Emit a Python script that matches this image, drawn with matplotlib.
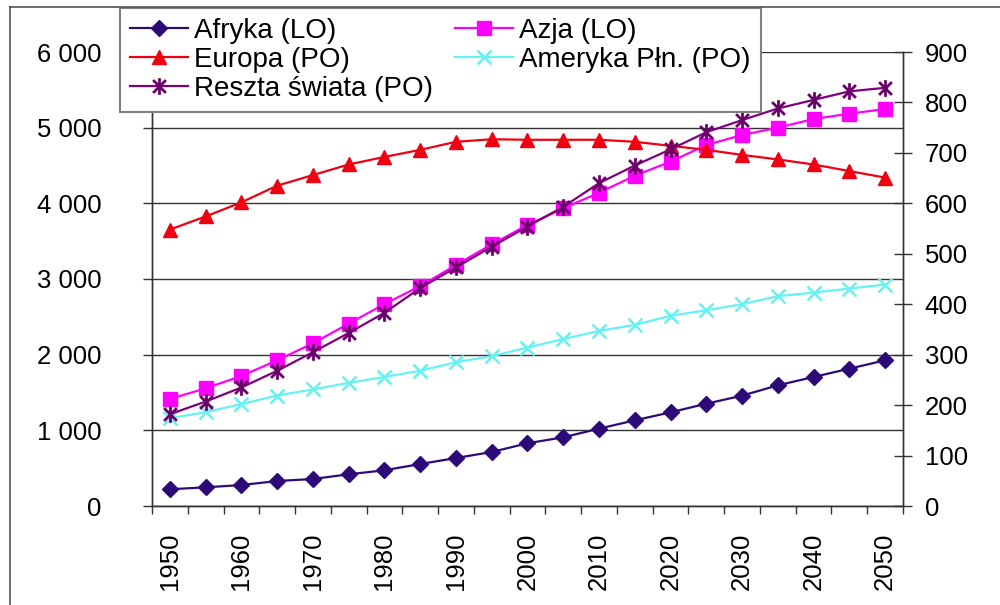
import matplotlib
matplotlib.use("Agg")
import matplotlib.pyplot as plt
from matplotlib.lines import Line2D
from matplotlib.path import Path
from matplotlib.ticker import FuncFormatter

plt.rcParams['font.family'] = ['Liberation Sans', 'DejaVu Sans']

years = [1950, 1955, 1960, 1965, 1970, 1975, 1980, 1985, 1990, 1995, 2000,
         2005, 2010, 2015, 2020, 2025, 2030, 2035, 2040, 2045, 2050]

# left axis (LO)
afryka = [221, 247, 277, 330, 357, 419, 472, 555, 634, 714, 829,
          908, 1022, 1132, 1238, 1352, 1458, 1595, 1705, 1815, 1925]
azja = [1414, 1555, 1718, 1925, 2150, 2410, 2668, 2907, 3185, 3458, 3713,
        3934, 4140, 4365, 4550, 4771, 4903, 5000, 5114, 5185, 5246]

# right axis (PO)
europa = [548, 574, 602, 635, 656, 677, 692, 706, 722, 727, 726,
          726, 726, 722, 714, 706, 696, 687, 677, 664, 651]
ameryka = [174, 186, 202, 219, 231, 244, 256, 268, 285, 297, 314,
           331, 347, 359, 377, 388, 400, 416, 423, 431, 439]
reszta = [182, 207, 235, 268, 305, 343, 383, 432, 473, 514, 554,
          593, 640, 675, 707, 741, 765, 788, 805, 822, 829]

labels = ['Afryka (LO)', 'Azja (LO)', 'Europa (PO)', 'Ameryka Płn. (PO)', 'Reszta świata (PO)']

# excel style star marker: X plus a vertical bar
star = Path([(-1, -1), (1, 1), (-1, 1), (1, -1), (0, -1.3), (0, 1.3)],
            [Path.MOVETO, Path.LINETO, Path.MOVETO, Path.LINETO, Path.MOVETO, Path.LINETO])

fig = plt.figure(figsize=(10, 6.05), dpi=100)
ax = fig.add_axes([0.152, 1 - 506 / 605, 0.751, (506 - 52) / 605])
ax2 = ax.twinx()

axis_col = '#333333'
fs = 18.5

l_afr, = ax.plot(years, afryka, color='#2E0A78', lw=1.6, marker='D', ms=8, zorder=3)
l_azj, = ax.plot(years, azja, color='#FF00FF', lw=1.6, marker='s', ms=9.5, zorder=3)
l_eur, = ax2.plot(years, europa, color='#F00010', lw=1.6, marker='^', ms=10.5)
l_ame, = ax2.plot(years, ameryka, color='#66F2F2', lw=1.6, marker='x', ms=10, mew=1.8)
l_res, = ax2.plot(years, reszta, color='#800080', lw=1.6, marker=star, ms=12, mew=2,
                  markeredgecolor='#6A006A')

ax.set_xlim(1947.5, 2052.5)
ax.set_ylim(0, 6000)
ax2.set_ylim(0, 900)

ax.set_yticks(range(0, 6001, 1000))
ax.yaxis.set_major_formatter(FuncFormatter(lambda v, p: f"{int(v):,}".replace(',', ' ')))
ax2.set_yticks(range(0, 901, 100))

ax.set_xticks(years[::2])
ax.set_xticklabels([str(y) for y in years[::2]], rotation=90)
ax.set_xticks([y - 2.5 for y in years] + [2052.5], minor=True)

ax.tick_params(axis='x', which='major', length=0, pad=19, labelsize=fs)
ax.tick_params(axis='x', which='minor', length=5.5, width=1, color=axis_col, direction='out')
ax.tick_params(axis='y', length=6.5, width=1, color=axis_col, direction='out', pad=30, labelsize=fs)
ax2.tick_params(axis='y', length=13, width=1, color=axis_col, direction='inout', pad=9, labelsize=fs)

ax.grid(axis='y', color=axis_col, lw=1)
ax.grid(axis='x', visible=False)
for a in (ax, ax2):
    a.spines['top'].set_visible(False)
    for s in ('left', 'right', 'bottom'):
        a.spines[s].set_color(axis_col)
        a.spines[s].set_linewidth(1)
ax.patch.set_visible(False)

handles = [l_afr, l_eur, l_res, l_azj, l_ame]
hlabels = [labels[0], labels[2], labels[4], labels[1], labels[3]]
leg = ax2.legend(handles, hlabels, loc='upper left', ncol=2,
                 bbox_to_anchor=(120 / 1000, 1 - 8 / 605), bbox_transform=fig.transFigure,
                 borderaxespad=0, fontsize=20, frameon=True, fancybox=False,
                 edgecolor='#808080', framealpha=1, handlelength=2.1, handletextpad=0.2,
                 columnspacing=0.8, labelspacing=0.1, borderpad=0.36)
leg.get_frame().set_linewidth(1.5)

# outer chart border
fig.add_artist(Line2D([0.010, 0.010], [0, 1 - 7 / 605], color='#555555', lw=1.2))
fig.add_artist(Line2D([0.010, 1.0], [1 - 7 / 605, 1 - 7 / 605], color='#555555', lw=1.2))

fig.savefig('out.png', dpi=100)
